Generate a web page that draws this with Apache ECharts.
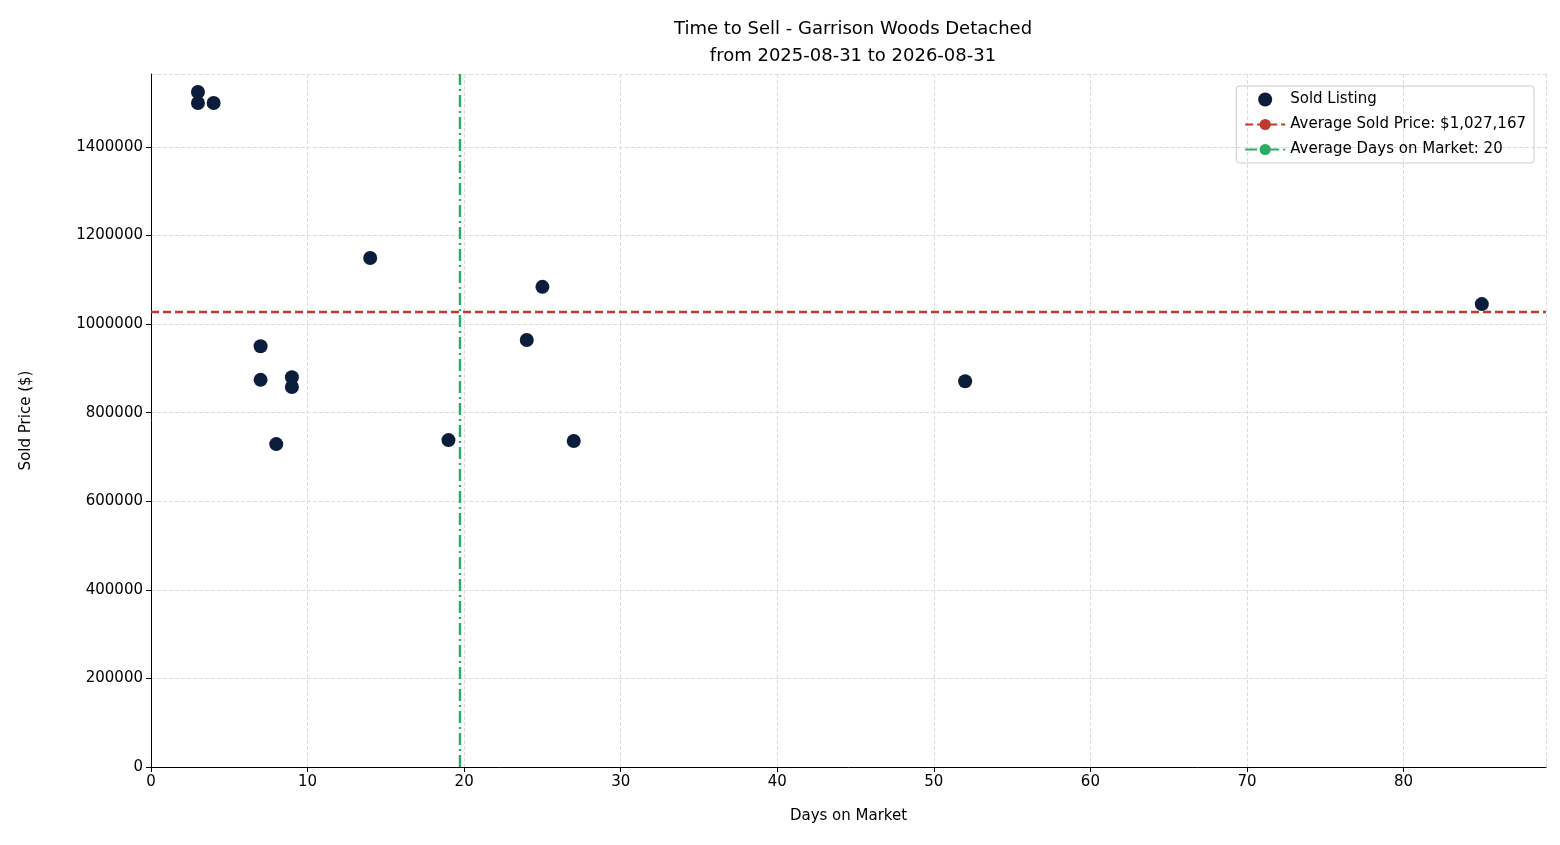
<!DOCTYPE html><html><head><meta charset="utf-8"><script src="https://cdn.jsdelivr.net/npm/echarts@6/dist/echarts.min.js"></script></head><body style="margin:0"><div id="c" style="width:1560px;height:845px"></div><script>
const days=[3,3,4,14,25,7,24,7,9,9,8,19,27,52,85];
const prices=[1524000,1499000,1499000,1149000,1084000,950000,964000,874000,880000,858000,729000,738000,736000,871000,1045000];
const avgPrice=1027167, avgDaysLabel=20;
const avgDays=days.reduce((a,b)=>a+b,0)/days.length;
const xMax=89.1,yMax=1564500;
const F='DejaVu Sans';
const c=echarts.init(document.getElementById('c'));
c.setOption({animation:false,textStyle:{fontFamily:F},
title:{text:'Time to Sell - Garrison Woods Detached\nfrom 2025-08-31 to 2026-08-31',left:848,textAlign:'center',top:11,textStyle:{fontFamily:F,fontSize:18,fontWeight:'normal',color:'#000',lineHeight:27}},
grid:{left:151,right:14,top:74,bottom:78},
legend:{orient:'vertical',right:26,top:86,padding:[6,8,6,8],itemGap:10,borderColor:'#ccc',borderWidth:1,borderRadius:3,itemWidth:40,itemHeight:14,textStyle:{fontFamily:F,fontSize:15,color:'#000'},
data:[{name:'Sold Listing',icon:'circle'},'Average Sold Price: $1,027,167','Average Days on Market: '+avgDaysLabel]},
xAxis:{type:'value',min:0,max:xMax,interval:10,name:'Days on Market',nameLocation:'middle',nameGap:42,nameTextStyle:{fontFamily:F,fontSize:15,color:'#000'},
axisLine:{lineStyle:{color:'#000'}},axisTick:{show:true,lineStyle:{color:'#000'}},axisLabel:{showMaxLabel:false,color:'#000',fontSize:15,fontFamily:F},splitLine:{lineStyle:{type:'dashed',color:'#ddd'}}},
yAxis:{type:'value',min:0,max:yMax,interval:200000,name:'Sold Price ($)',nameLocation:'middle',nameGap:117,nameTextStyle:{fontFamily:F,fontSize:15,color:'#000'},
axisLine:{show:true,lineStyle:{color:'#000'}},axisTick:{show:true,lineStyle:{color:'#000'}},axisLabel:{showMaxLabel:false,color:'#000',fontSize:15,fontFamily:F,formatter:v=>String(v)},splitLine:{lineStyle:{type:'dashed',color:'#ddd'}}},
series:[
{name:'Sold Listing',type:'scatter',symbolSize:14,itemStyle:{color:'#0b1d3a',opacity:1},data:days.map((d,i)=>[d,prices[i]]),z:5},
{name:'Average Sold Price: $1,027,167',type:'line',symbol:'none',showSymbol:false,color:'#c0392b',lineStyle:{color:'#c0392b',width:2.4,type:[8,4]},data:[[0,avgPrice],[xMax,avgPrice]]},
{name:'Average Days on Market: '+avgDaysLabel,type:'line',symbol:'none',showSymbol:false,color:'#27ae60',lineStyle:{color:'#27ae60',width:2.4,type:[12,4,2,4]},data:[[avgDays,0],[avgDays,yMax]]}
]});
</script></body></html>
